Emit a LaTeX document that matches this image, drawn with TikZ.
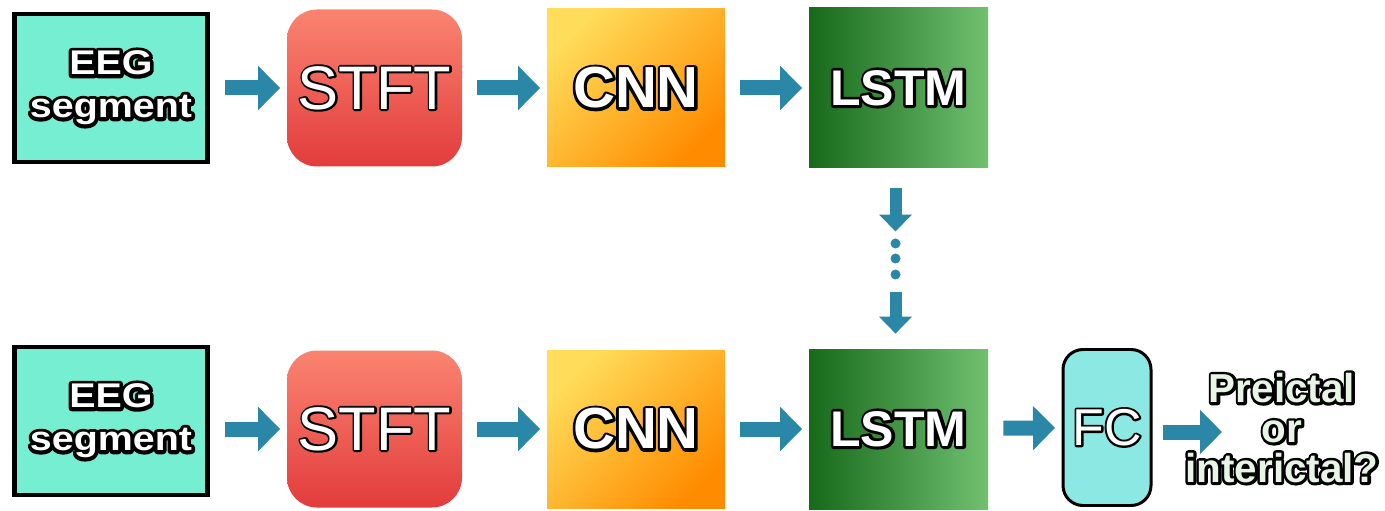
\documentclass[tikz,border=0pt]{standalone}
\usepackage{fontspec}
\setmainfont{Liberation Sans}
\newfontfamily\eegfont[FakeStretch=1.15]{Liberation Sans}
\usetikzlibrary{arrows.meta,calc}

\definecolor{eegcol}{RGB}{118,238,210}
\definecolor{fccol}{RGB}{140,232,226}
\definecolor{flowcol}{RGB}{43,135,168}
\definecolor{stfttop}{RGB}{250,132,112}
\definecolor{stftbot}{RGB}{226,60,60}
\definecolor{cnntop}{RGB}{255,220,90}
\definecolor{cnnbot}{RGB}{255,140,0}
\definecolor{lstmleft}{RGB}{22,106,26}
\definecolor{lstmright}{RGB}{112,192,112}
\definecolor{outtext}{RGB}{232,244,230}

% black stroked copy under the white letters
\newcommand{\outl}[2][3.2]{\rlap{\special{pdf:code q 2 Tr #1 w 1 j 0 g 0 G}#2\special{pdf:code Q}}#2}

\begin{document}
\begin{tikzpicture}[
  eeg/.style={draw=black, line width=2.8pt, fill=eegcol, minimum width=3.86cm, minimum height=2.96cm, text=white, align=center, font=\eegfont\bfseries\fontsize{19.5}{24.4}\selectfont},
  stft/.style={rounded corners=0.6cm, top color=stfttop, bottom color=stftbot, minimum width=3.5cm, minimum height=3.14cm, text=white, font=\fontsize{35}{36}\selectfont},
  cnn/.style={top color=cnntop, bottom color=cnnbot, shading angle=45, minimum width=3.56cm, minimum height=3.16cm, text=white, font=\bfseries\fontsize{33}{34}\selectfont},
  lstm/.style={left color=lstmleft, right color=lstmright, minimum width=3.58cm, minimum height=3.2cm, text=white, font=\bfseries\fontsize{28.5}{30}\selectfont},
  flow/.style={draw=flowcol, line width=0.3cm, -{Triangle[width=0.86cm,length=0.44cm]}, shorten <=0.3cm, shorten >=0.13cm},
  vflow/.style={draw=flowcol, line width=0.24cm, -{Triangle[width=0.64cm,length=0.34cm]}}
]
\useasboundingbox (0,0) rectangle (27.7,-10.22);

% first window
\node[eeg] (eeg1) at (2.22,-1.76) {\outl[4]{EEG}\\\outl[4]{segment}};
\node[stft] (stft1) at (7.49,-1.76) {\outl[2.2]{STFT}};
\node[cnn] (cnn1) at (12.72,-1.76) {\outl{CNN}};
\node[lstm] (lstm1) at (17.97,-1.76) {\outl{LSTM}};

% last window
\node[eeg] (eeg2) at (2.22,-8.42) {\outl[4]{EEG}\\\outl[4]{segment}};
\node[stft] (stft2) at (7.49,-8.58) {\outl[2.2]{STFT}};
\node[cnn] (cnn2) at (12.72,-8.58) {\outl{CNN}};
\node[lstm] (lstm2) at (17.97,-8.58) {\outl{LSTM}};
\node[draw=black, line width=1.7pt, rounded corners=0.4cm, fill=fccol, minimum width=1.76cm, minimum height=3.12cm, text=white, font=\fontsize{29.5}{30}\selectfont] (fc) at (22.14,-8.55) {\outl[2.4]{FC}};
\node[text=outtext, align=center, font=\bfseries\fontsize{23}{22.7}\selectfont] (out) at (25.64,-8.56) {\outl{Preictal}\\\outl{or}\\\outl{interictal?}};
\coordinate (outin) at (24.44,-8.64);

\draw[flow] (eeg1) -- (stft1);
\draw[flow] (stft1) -- (cnn1);
\draw[flow] (cnn1) -- (lstm1);

\draw[flow] (eeg2.east |- stft2) -- (stft2);
\draw[flow] (stft2) -- (cnn2);
\draw[flow] (cnn2) -- (lstm2);
\draw[flow] (lstm2) -- (fc);
\draw[flow, shorten <=0.2cm, shorten >=0cm] (fc.east |- outin) -- (outin);

% hidden state passed down
\coordinate (dots) at ($(lstm1.south)!0.5!(lstm2.north)+(-0.06,0)$);
\draw[vflow, shorten <=0.4cm, shorten >=0.54cm] (lstm1.south -| dots) -- (dots);
\draw[vflow, shorten <=0.66cm, shorten >=0.3cm] (dots) -- (lstm2.north -| dots);
\foreach \dy in {0.3,0,-0.32}
  \fill[flowcol] ($(dots)+(0,\dy)$) circle (0.1cm);
\end{tikzpicture}
\end{document}
